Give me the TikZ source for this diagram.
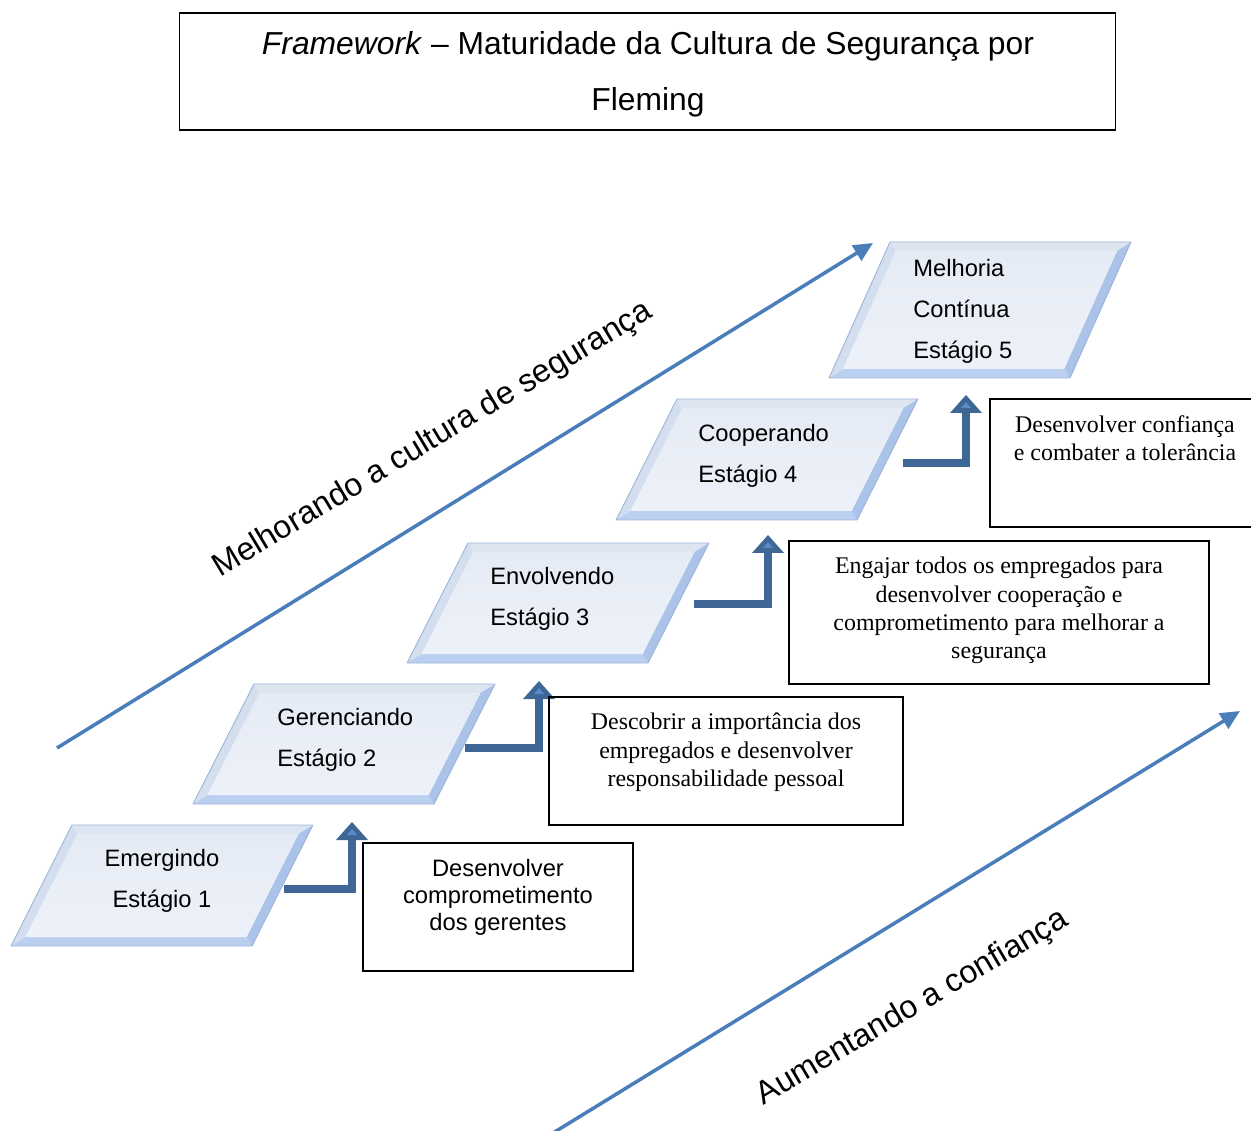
\documentclass[tikz,border=0pt]{standalone}
\usepackage{fontspec}
\setmainfont{Liberation Serif}
\setsansfont{Liberation Sans}
\usetikzlibrary{arrows.meta,calc}

\definecolor{facetop}{HTML}{E5EBF5}
\definecolor{facebot}{HTML}{EDF1F9}
\definecolor{bevlight}{HTML}{DDE5F1}
\definecolor{bevleft}{HTML}{D3DEEF}
\definecolor{bevright}{HTML}{ABC3E8}
\definecolor{bevbottom}{HTML}{BBD0F0}
\definecolor{rimline}{HTML}{9CB3D9}
\definecolor{stepblue}{HTML}{3E6796}
\definecolor{stepheadin}{HTML}{5B8BC8}
\definecolor{trendblue}{HTML}{4A7EBB}

\tikzset{
  stagetext/.style={font=\sffamily\fontsize{13.5}{23.4}\selectfont, inner sep=0pt, align=left},
  notebox/.style={draw=black, line width=0.8pt, inner sep=0pt},
  titletext/.style={font=\sffamily\fontsize{18.1}{31.9}\selectfont, inner sep=0pt, align=center},
  notesans/.style={font=\sffamily\fontsize{13.5}{15.4}\selectfont, inner sep=0pt, align=center},
  noteserif/.style={font=\fontsize{13.6}{16}\selectfont, inner sep=0pt, align=center},
  stepline/.style={draw=stepblue, line width=4pt},
  trend/.style={draw=trendblue, line width=2pt, -{Triangle[length=11pt,width=10pt]}},
  trendlabel/.style={font=\sffamily\fontsize{18.3}{20}\selectfont, anchor=base, inner sep=0pt},
}

% bevelled parallelogram: name, top-left x, top y, height
\newcommand\stageshape[4]{%
  \pgfmathsetmacro\stX{#2}%
  \pgfmathsetmacro\stY{#3}%
  \pgfmathsetmacro\stB{#3+#4}%
  \pgfmathsetmacro\stK{61/#4}%
  \coordinate (#1-tl) at (\stX,\stY);
  \coordinate (#1-tr) at (\stX+241,\stY);
  \coordinate (#1-br) at (\stX+180,\stB);
  \coordinate (#1-bl) at (\stX-61,\stB);
  \coordinate (#1-itl) at (\stX-9*\stK+10,\stY+9);
  \coordinate (#1-itr) at (\stX+241-9*\stK-10,\stY+9);
  \coordinate (#1-ibr) at (\stX+180+9*\stK-10,\stB-9);
  \coordinate (#1-ibl) at (\stX-61+9*\stK+10,\stB-9);
  \fill[bevlight] (#1-tl) -- (#1-tr) -- (#1-itr) -- (#1-itl) -- cycle;
  \fill[bevleft] (#1-tl) -- (#1-itl) -- (#1-ibl) -- (#1-bl) -- cycle;
  \fill[bevbottom] (#1-bl) -- (#1-ibl) -- (#1-ibr) -- (#1-br) -- cycle;
  \fill[bevright] (#1-tr) -- (#1-br) -- (#1-ibr) -- (#1-itr) -- cycle;
  \shade[top color=facetop, bottom color=facebot] (#1-itl) -- (#1-itr) -- (#1-ibr) -- (#1-ibl) -- cycle;
  \draw[rimline, line width=0.5pt, line join=round] (#1-tl) -- (#1-tr) -- (#1-br) -- (#1-bl) -- cycle;
}

% elbow arrow from a stage to the next one: start, tip
\newcommand\steparrow[2]{%
  \draw[stepline] (#1) -| ($(#2)+(0,17)$);
  \fill[stepblue] (#2) -- ++(-16,18) -- ++(32,0) -- cycle;
  \fill[stepheadin] ($(#2)+(0,7)$) -- ++(-5,6) -- ++(10,0) -- cycle;
}

\begin{document}
\begin{tikzpicture}[x=0.02cm,y=-0.02cm]
\useasboundingbox (0,0) rectangle (1251,1131);
\clip (0,0) rectangle (1251,1131);
\fill[white] (0,0) rectangle (1251,1131);

% title
\node[notebox, line width=0.6pt, minimum width=18.74cm, minimum height=2.34cm] (title) at (647.5,71.5) {};
\node[titletext, anchor=north] (titletxt) at (648,31)
  {\textit{Framework} – Maturidade da Cultura de Segurança por\\Fleming};

% trend arrows
\coordinate (upA) at (57,748);
\coordinate (upB) at (873,243);
\draw[trend] (upA) -- (upB);
\node[trendlabel, rotate=31] (uplabel) at (437,447) {Melhorando a cultura de segurança};

\coordinate (loA) at (553,1133);
\coordinate (loB) at (1240,711);
\draw[trend] (loA) -- (loB);
\node[trendlabel, rotate=30.5] (lolabel) at (917,1015) {Aumentando a confiança};

% stages
\stageshape{p1}{72}{825}{121}
\stageshape{p2}{254}{684}{120}
\stageshape{p3}{468}{543}{120}
\stageshape{p4}{677}{399}{121}
\stageshape{p5}{890}{242}{136}

\node[stagetext, align=center, anchor=north] (s1) at (162,849) {Emergindo\\Estágio 1};
\node[stagetext, anchor=north west] (s2) at (277,708) {Gerenciando\\Estágio 2};
\node[stagetext, anchor=north west] (s3) at (490,567) {Envolvendo\\Estágio 3};
\node[stagetext, anchor=north west] (s4) at (698,424) {Cooperando\\Estágio 4};
\node[stagetext, anchor=north west] (s5) at (913,259) {Melhoria\\Contínua\\Estágio 5};

% elbow arrows
\coordinate (a1s) at (284,889);  \coordinate (a1t) at (352,822);
\coordinate (a2s) at (465,748);  \coordinate (a2t) at (539,681);
\coordinate (a3s) at (694,604);  \coordinate (a3t) at (768,535);
\coordinate (a4s) at (903,463);  \coordinate (a4t) at (966,395);
\steparrow{a1s}{a1t}
\steparrow{a2s}{a2t}
\steparrow{a3s}{a3t}
\steparrow{a4s}{a4t}

% notes
\node[notebox, minimum width=5.4cm, minimum height=2.56cm] (b1) at (498,907) {};
\node[notesans, anchor=north] (b1t) at (498,859) {Desenvolver\\comprometimento\\dos gerentes};

\node[notebox, minimum width=7.08cm, minimum height=2.56cm] (b2) at (726,761) {};
\node[noteserif, anchor=north] (b2t) at (726,713) {Descobrir a importância dos\\empregados e desenvolver\\responsabilidade pessoal};

\node[notebox, minimum width=8.4cm, minimum height=2.86cm] (b3) at (999,612.5) {};
\node[noteserif, anchor=north] (b3t) at (999,557) {Engajar todos os empregados para\\desenvolver cooperação e\\comprometimento para melhorar a\\segurança};

\node[notebox, minimum width=5.4cm, minimum height=2.56cm] (b4) at (1125,463) {};
\node[noteserif, anchor=north] (b4t) at (1125,415) {Desenvolver confiança\\e combater a tolerância};
\end{tikzpicture}
\end{document}
